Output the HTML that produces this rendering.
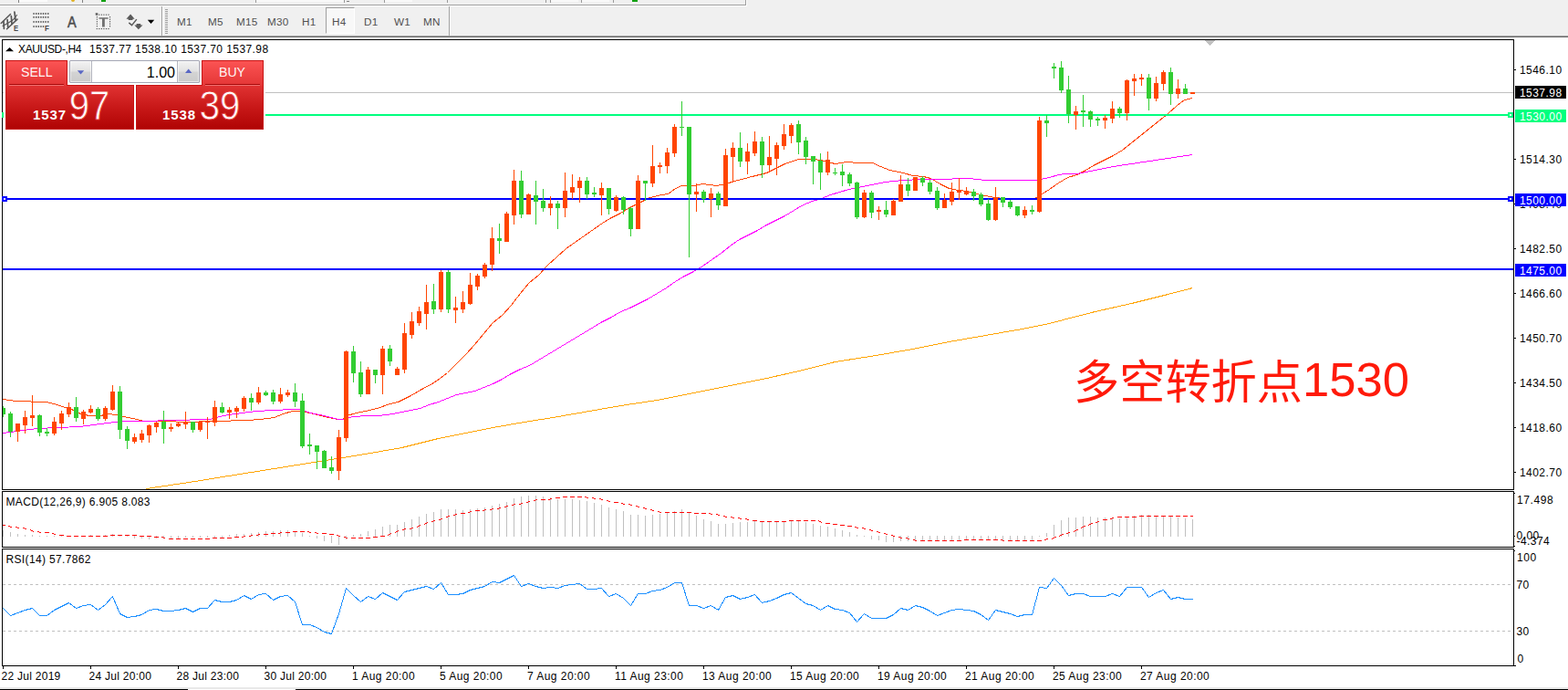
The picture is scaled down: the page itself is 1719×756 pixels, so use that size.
<!DOCTYPE html>
<html><head><meta charset="utf-8"><title>XAUUSD H4</title>
<style>
*{margin:0;padding:0;box-sizing:border-box}
html,body{width:1719px;height:756px;overflow:hidden;background:#fff;font-family:"Liberation Sans",sans-serif;color:#000}
#root{position:relative;width:1719px;height:756px;overflow:hidden;background:#fff}
#chart,#cn{position:absolute;left:0;top:0}
.tb{position:absolute;left:0;top:0;width:1719px;height:41px;background:#f0f0f0}
.tb .l1{position:absolute;left:0;top:5px;width:818px;height:1px;background:#a0a0a0}
.tb .l1b{position:absolute;left:0;top:6px;width:819px;height:1px;background:#fff}
.tb .l2{position:absolute;left:0;top:39px;width:1719px;height:1px;background:#a0a0a0}
.tb .l3{position:absolute;left:0;top:40px;width:1719px;height:1px;background:#696969}
.tf{position:absolute;top:16.8px;font-size:11.7px;line-height:14px;color:#505050;white-space:nowrap;letter-spacing:.3px}
.vsep{position:absolute;top:7px;width:1px;height:32px;background:#a0a0a0}
.pl{position:absolute;left:1666px;font-size:12px;line-height:14px;white-space:nowrap;letter-spacing:0.45px}
.pb{position:absolute;left:1661px;width:56px;height:14px;overflow:hidden;font-size:12px;line-height:16px;color:#fff;padding-left:5px;white-space:nowrap;letter-spacing:0.45px}
.tl{position:absolute;top:734px;font-size:12px;line-height:14px;white-space:nowrap;letter-spacing:.26px}
.ttl{position:absolute;left:20px;top:47px;font-size:12px;line-height:14px;white-space:pre;letter-spacing:0.28px}
.ind{position:absolute;left:6.5px;font-size:12px;line-height:14px;white-space:pre}
#panelbg{position:absolute;left:4px;top:44px;width:287px;height:99px;background:#fff}

#tp{position:absolute;left:0;top:0}
.rp{position:absolute;border:1px solid #c81414}
.hd{background:linear-gradient(#fb5353,#e43636)}
.lo{background:linear-gradient(#e03232,#c81818 50%,#b00404)}
.tpl{position:absolute;color:#fff;font-size:15px;line-height:16px;white-space:nowrap;opacity:.95;transform-origin:0 0;transform:scale(.94,1.02)}
.sm{position:absolute;color:#fff;font-weight:bold;font-size:15px;line-height:15px;white-space:nowrap;letter-spacing:.9px}
.bg{position:absolute;color:#fff;font-size:43px;line-height:43px;white-space:nowrap;transform-origin:0 0;transform:scaleX(.95)}
.ul{position:absolute;height:2px;border-top:1px solid #a80808;border-bottom:1px solid #f07070}
.vb{position:absolute;left:76px;top:66px;width:143px;height:25px;border:1px solid #a4a6b4;background:#fff;border-radius:1px}
.vbtn{position:absolute;top:0;width:24px;height:23px;background:linear-gradient(#f3f3f3,#e2e2e2 48%,#d4d4d4 52%,#cbcbcb);box-shadow:inset 0 0 0 1px rgba(255,255,255,.55)}
</style></head><body><div id="root">
<svg id="chart" width="1719" height="756" viewBox="0 0 1719 756" shape-rendering="crispEdges"><rect x="3" y="101" width="1656" height="1" fill="#c0c0c0"/>
<polyline points="160.5,535.5 180.5,532.5 200.5,529.5 220.5,526.5 250.5,521.5 300.5,513.5 350.5,505.5 400.5,497.5 440.5,490.5 480.5,480.5 500.5,476.5 540.5,468.5 580.5,461.5 600.5,458.5 640.5,451.5 680.5,444.5 720.5,438.5 760.5,430.5 800.5,422.5 840.5,414.5 880.5,405.5 915.5,396.5 960.5,389.5 1000.5,382.5 1040.5,374.5 1080.5,367.5 1120.5,360.5 1150.5,354.5 1165.5,350.5 1200.5,341.5 1240.5,332.5 1280.5,322.5 1307.5,315.5" fill="none" stroke="#ffa500" stroke-width="1"/>
<polyline points="3.5,437.5 17.5,439.5 50.5,440.5 55.5,441.5 62.5,443.5 68.5,445.5 78.5,448.5 90.5,454.5 100.5,455.5 110.5,455.5 118.5,453.5 127.5,454.5 135.5,456.5 150.5,459.5 157.5,461.5 185.5,461.5 200.5,462.5 235.5,461.5 270.5,460.5 285.5,459.5 300.5,457.5 310.5,453.5 320.5,450.5 327.5,450.5 340.5,452.5 355.5,456.5 370.5,459.5 375.5,459.5 380.5,455.5 390.5,452.5 400.5,450.5 413.5,447.5 427.5,442.5 436.5,440.5 450.5,433.5 462.5,426.5 475.5,419.5 482.5,414.5 490.5,408.5 500.5,398.5 510.5,388.5 520.5,377.5 530.5,365.5 540.5,353.5 550.5,345.5 560.5,334.5 570.5,321.5 580.5,309.5 590.5,301.5 600.5,290.5 610.5,281.5 620.5,272.5 630.5,265.5 640.5,258.5 650.5,251.5 660.5,244.5 670.5,238.5 680.5,233.5 690.5,227.5 700.5,222.5 712.5,216.5 725.5,213.5 732.5,212.5 740.5,206.5 747.5,203.5 760.5,203.5 770.5,201.5 785.5,203.5 795.5,201.5 805.5,198.5 820.5,194.5 840.5,189.5 850.5,184.5 860.5,179.5 875.5,174.5 890.5,174.5 900.5,175.5 910.5,178.5 916.5,179.5 928.5,177.5 940.5,178.5 956.5,178.5 965.5,182.5 975.5,186.5 990.5,189.5 1000.5,192.5 1012.5,193.5 1020.5,195.5 1030.5,201.5 1040.5,206.5 1050.5,208.5 1060.5,209.5 1070.5,212.5 1080.5,214.5 1090.5,216.5 1100.5,217.5 1115.5,217.5 1134.5,217.5 1137.5,215.5 1142.5,212.5 1150.5,207.5 1160.5,200.5 1170.5,194.5 1180.5,191.5 1190.5,186.5 1200.5,180.5 1210.5,175.5 1220.5,170.5 1230.5,164.5 1240.5,156.5 1250.5,148.5 1260.5,140.5 1270.5,132.5 1280.5,124.5 1290.5,115.5 1298.5,109.5 1307.5,107.5" fill="none" stroke="#ff4500" stroke-width="1"/>
<polyline points="3.5,474.5 40.5,469.5 87.5,467.5 125.5,462.5 137.5,461.5 160.5,461.5 185.5,460.5 200.5,460.5 215.5,459.5 230.5,459.5 240.5,456.5 250.5,454.5 265.5,452.5 280.5,450.5 300.5,449.5 320.5,448.5 327.5,448.5 340.5,452.5 355.5,455.5 370.5,459.5 375.5,459.5 380.5,457.5 390.5,456.5 400.5,455.5 415.5,455.5 430.5,453.5 445.5,450.5 460.5,447.5 470.5,443.5 480.5,440.5 490.5,436.5 500.5,432.5 510.5,430.5 520.5,428.5 530.5,424.5 540.5,420.5 550.5,415.5 560.5,409.5 570.5,404.5 580.5,400.5 590.5,394.5 600.5,388.5 610.5,382.5 620.5,376.5 630.5,370.5 640.5,364.5 650.5,358.5 660.5,352.5 670.5,347.5 680.5,341.5 690.5,337.5 700.5,332.5 710.5,327.5 720.5,321.5 730.5,315.5 740.5,308.5 750.5,302.5 760.5,297.5 770.5,291.5 780.5,284.5 790.5,277.5 800.5,269.5 810.5,262.5 820.5,257.5 830.5,252.5 840.5,246.5 850.5,241.5 860.5,236.5 870.5,230.5 880.5,224.5 890.5,220.5 900.5,217.5 910.5,213.5 920.5,210.5 930.5,207.5 940.5,205.5 950.5,203.5 960.5,201.5 970.5,199.5 980.5,198.5 990.5,197.5 1010.5,196.5 1040.5,196.5 1047.5,195.5 1063.5,195.5 1070.5,196.5 1080.5,197.5 1134.5,197.5 1140.5,196.5 1150.5,194.5 1160.5,191.5 1167.5,190.5 1180.5,190.5 1190.5,188.5 1200.5,186.5 1220.5,182.5 1240.5,179.5 1260.5,176.5 1280.5,173.5 1300.5,170.5 1307.5,169.5" fill="none" stroke="#ff00ff" stroke-width="1"/>
<rect x="3" y="125" width="1656" height="2" fill="#00ff7f"/>
<rect x="3" y="217" width="1656" height="2" fill="#0000ff"/>
<rect x="3" y="294" width="1656" height="2" fill="#0000ff"/>
<rect x="3" y="445" width="1" height="12" fill="#32cd32"/>
<rect x="3" y="447" width="3" height="7" fill="#32cd32"/>
<rect x="11" y="451" width="1" height="28" fill="#32cd32"/>
<rect x="9" y="453" width="5" height="20" fill="#32cd32"/>
<rect x="19" y="464" width="1" height="20" fill="#ff4500"/>
<rect x="17" y="464" width="5" height="9" fill="#ff4500"/>
<rect x="27" y="450" width="1" height="25" fill="#ff4500"/>
<rect x="25" y="457" width="5" height="9" fill="#ff4500"/>
<rect x="35" y="433" width="1" height="34" fill="#ff4500"/>
<rect x="33" y="455" width="5" height="3" fill="#ff4500"/>
<rect x="43" y="454" width="1" height="24" fill="#32cd32"/>
<rect x="41" y="455" width="5" height="19" fill="#32cd32"/>
<rect x="51" y="469" width="1" height="9" fill="#32cd32"/>
<rect x="49" y="473" width="5" height="2" fill="#32cd32"/>
<rect x="59" y="457" width="1" height="20" fill="#ff4500"/>
<rect x="57" y="462" width="5" height="13" fill="#ff4500"/>
<rect x="67" y="450" width="1" height="21" fill="#ff4500"/>
<rect x="65" y="453" width="5" height="11" fill="#ff4500"/>
<rect x="75" y="441" width="1" height="16" fill="#ff4500"/>
<rect x="73" y="446" width="5" height="8" fill="#ff4500"/>
<rect x="83" y="435" width="1" height="27" fill="#32cd32"/>
<rect x="81" y="446" width="5" height="12" fill="#32cd32"/>
<rect x="91" y="449" width="1" height="16" fill="#ff4500"/>
<rect x="89" y="451" width="5" height="8" fill="#ff4500"/>
<rect x="99" y="444" width="1" height="9" fill="#ff4500"/>
<rect x="97" y="448" width="5" height="4" fill="#ff4500"/>
<rect x="107" y="446" width="1" height="15" fill="#32cd32"/>
<rect x="105" y="448" width="5" height="11" fill="#32cd32"/>
<rect x="115" y="445" width="1" height="16" fill="#ff4500"/>
<rect x="113" y="447" width="5" height="12" fill="#ff4500"/>
<rect x="123" y="422" width="1" height="28" fill="#ff4500"/>
<rect x="121" y="429" width="5" height="20" fill="#ff4500"/>
<rect x="131" y="423" width="1" height="58" fill="#32cd32"/>
<rect x="129" y="429" width="5" height="42" fill="#32cd32"/>
<rect x="139" y="467" width="1" height="25" fill="#32cd32"/>
<rect x="137" y="470" width="5" height="13" fill="#32cd32"/>
<rect x="147" y="475" width="1" height="11" fill="#ff4500"/>
<rect x="145" y="479" width="5" height="5" fill="#ff4500"/>
<rect x="155" y="471" width="1" height="14" fill="#ff4500"/>
<rect x="153" y="475" width="5" height="7" fill="#ff4500"/>
<rect x="163" y="465" width="1" height="20" fill="#ff4500"/>
<rect x="161" y="466" width="5" height="11" fill="#ff4500"/>
<rect x="171" y="462" width="1" height="12" fill="#ff4500"/>
<rect x="169" y="463" width="5" height="5" fill="#ff4500"/>
<rect x="179" y="450" width="1" height="36" fill="#32cd32"/>
<rect x="177" y="462" width="5" height="8" fill="#32cd32"/>
<rect x="187" y="464" width="1" height="9" fill="#ff4500"/>
<rect x="185" y="468" width="5" height="2" fill="#ff4500"/>
<rect x="195" y="462" width="1" height="6" fill="#ff4500"/>
<rect x="193" y="464" width="5" height="3" fill="#ff4500"/>
<rect x="203" y="451" width="1" height="19" fill="#ff4500"/>
<rect x="201" y="462" width="5" height="3" fill="#ff4500"/>
<rect x="211" y="462" width="1" height="12" fill="#32cd32"/>
<rect x="209" y="462" width="5" height="9" fill="#32cd32"/>
<rect x="219" y="462" width="1" height="11" fill="#ff4500"/>
<rect x="217" y="462" width="5" height="9" fill="#ff4500"/>
<rect x="227" y="457" width="1" height="24" fill="#ff4500"/>
<rect x="225" y="461" width="5" height="2" fill="#ff4500"/>
<rect x="235" y="439" width="1" height="28" fill="#ff4500"/>
<rect x="233" y="446" width="5" height="17" fill="#ff4500"/>
<rect x="243" y="441" width="1" height="12" fill="#32cd32"/>
<rect x="241" y="446" width="5" height="6" fill="#32cd32"/>
<rect x="251" y="446" width="1" height="13" fill="#ff4500"/>
<rect x="249" y="449" width="5" height="3" fill="#ff4500"/>
<rect x="259" y="445" width="1" height="13" fill="#ff4500"/>
<rect x="257" y="447" width="5" height="4" fill="#ff4500"/>
<rect x="267" y="434" width="1" height="17" fill="#ff4500"/>
<rect x="265" y="436" width="5" height="12" fill="#ff4500"/>
<rect x="275" y="431" width="1" height="19" fill="#32cd32"/>
<rect x="273" y="436" width="5" height="5" fill="#32cd32"/>
<rect x="283" y="424" width="1" height="19" fill="#ff4500"/>
<rect x="281" y="430" width="5" height="11" fill="#ff4500"/>
<rect x="291" y="428" width="1" height="6" fill="#32cd32"/>
<rect x="289" y="430" width="5" height="3" fill="#32cd32"/>
<rect x="299" y="427" width="1" height="16" fill="#32cd32"/>
<rect x="297" y="430" width="5" height="10" fill="#32cd32"/>
<rect x="307" y="425" width="1" height="17" fill="#ff4500"/>
<rect x="305" y="432" width="5" height="8" fill="#ff4500"/>
<rect x="315" y="427" width="1" height="8" fill="#ff4500"/>
<rect x="313" y="430" width="5" height="3" fill="#ff4500"/>
<rect x="323" y="420" width="1" height="26" fill="#32cd32"/>
<rect x="321" y="430" width="5" height="10" fill="#32cd32"/>
<rect x="331" y="431" width="1" height="60" fill="#32cd32"/>
<rect x="329" y="439" width="5" height="50" fill="#32cd32"/>
<rect x="339" y="475" width="1" height="23" fill="#32cd32"/>
<rect x="337" y="487" width="5" height="2" fill="#32cd32"/>
<rect x="347" y="488" width="1" height="26" fill="#32cd32"/>
<rect x="345" y="488" width="5" height="7" fill="#32cd32"/>
<rect x="355" y="493" width="1" height="20" fill="#32cd32"/>
<rect x="353" y="494" width="5" height="19" fill="#32cd32"/>
<rect x="363" y="500" width="1" height="19" fill="#32cd32"/>
<rect x="361" y="512" width="5" height="4" fill="#32cd32"/>
<rect x="371" y="471" width="1" height="55" fill="#ff4500"/>
<rect x="369" y="479" width="5" height="37" fill="#ff4500"/>
<rect x="379" y="384" width="1" height="100" fill="#ff4500"/>
<rect x="377" y="385" width="5" height="95" fill="#ff4500"/>
<rect x="387" y="379" width="1" height="40" fill="#32cd32"/>
<rect x="385" y="385" width="5" height="24" fill="#32cd32"/>
<rect x="395" y="396" width="1" height="39" fill="#32cd32"/>
<rect x="393" y="408" width="5" height="24" fill="#32cd32"/>
<rect x="403" y="402" width="1" height="30" fill="#ff4500"/>
<rect x="401" y="405" width="5" height="27" fill="#ff4500"/>
<rect x="411" y="405" width="1" height="15" fill="#32cd32"/>
<rect x="409" y="405" width="5" height="6" fill="#32cd32"/>
<rect x="419" y="379" width="1" height="53" fill="#ff4500"/>
<rect x="417" y="382" width="5" height="29" fill="#ff4500"/>
<rect x="427" y="378" width="1" height="23" fill="#32cd32"/>
<rect x="425" y="382" width="5" height="14" fill="#32cd32"/>
<rect x="435" y="402" width="1" height="9" fill="#ff4500"/>
<rect x="433" y="404" width="5" height="7" fill="#ff4500"/>
<rect x="443" y="354" width="1" height="55" fill="#ff4500"/>
<rect x="441" y="365" width="5" height="40" fill="#ff4500"/>
<rect x="451" y="342" width="1" height="29" fill="#ff4500"/>
<rect x="449" y="352" width="5" height="15" fill="#ff4500"/>
<rect x="459" y="336" width="1" height="21" fill="#ff4500"/>
<rect x="457" y="341" width="5" height="13" fill="#ff4500"/>
<rect x="467" y="312" width="1" height="49" fill="#ff4500"/>
<rect x="465" y="331" width="5" height="13" fill="#ff4500"/>
<rect x="475" y="311" width="1" height="33" fill="#32cd32"/>
<rect x="473" y="330" width="5" height="9" fill="#32cd32"/>
<rect x="483" y="296" width="1" height="46" fill="#ff4500"/>
<rect x="481" y="298" width="5" height="41" fill="#ff4500"/>
<rect x="491" y="296" width="1" height="47" fill="#32cd32"/>
<rect x="489" y="298" width="5" height="41" fill="#32cd32"/>
<rect x="499" y="325" width="1" height="29" fill="#ff4500"/>
<rect x="497" y="337" width="5" height="3" fill="#ff4500"/>
<rect x="507" y="319" width="1" height="24" fill="#ff4500"/>
<rect x="505" y="331" width="5" height="8" fill="#ff4500"/>
<rect x="515" y="299" width="1" height="35" fill="#ff4500"/>
<rect x="513" y="312" width="5" height="21" fill="#ff4500"/>
<rect x="523" y="300" width="1" height="18" fill="#ff4500"/>
<rect x="521" y="302" width="5" height="12" fill="#ff4500"/>
<rect x="531" y="288" width="1" height="17" fill="#ff4500"/>
<rect x="529" y="290" width="5" height="13" fill="#ff4500"/>
<rect x="539" y="249" width="1" height="48" fill="#ff4500"/>
<rect x="537" y="261" width="5" height="29" fill="#ff4500"/>
<rect x="547" y="245" width="1" height="33" fill="#32cd32"/>
<rect x="545" y="261" width="5" height="3" fill="#32cd32"/>
<rect x="555" y="232" width="1" height="33" fill="#ff4500"/>
<rect x="553" y="234" width="5" height="31" fill="#ff4500"/>
<rect x="563" y="186" width="1" height="60" fill="#ff4500"/>
<rect x="561" y="198" width="5" height="38" fill="#ff4500"/>
<rect x="571" y="187" width="1" height="52" fill="#32cd32"/>
<rect x="569" y="198" width="5" height="37" fill="#32cd32"/>
<rect x="579" y="212" width="1" height="23" fill="#ff4500"/>
<rect x="577" y="213" width="5" height="22" fill="#ff4500"/>
<rect x="587" y="198" width="1" height="48" fill="#32cd32"/>
<rect x="585" y="214" width="5" height="7" fill="#32cd32"/>
<rect x="595" y="207" width="1" height="25" fill="#32cd32"/>
<rect x="593" y="220" width="5" height="8" fill="#32cd32"/>
<rect x="603" y="215" width="1" height="21" fill="#ff4500"/>
<rect x="601" y="223" width="5" height="5" fill="#ff4500"/>
<rect x="611" y="220" width="1" height="31" fill="#32cd32"/>
<rect x="609" y="223" width="5" height="5" fill="#32cd32"/>
<rect x="619" y="189" width="1" height="49" fill="#ff4500"/>
<rect x="617" y="209" width="5" height="19" fill="#ff4500"/>
<rect x="627" y="191" width="1" height="27" fill="#ff4500"/>
<rect x="625" y="205" width="5" height="6" fill="#ff4500"/>
<rect x="635" y="194" width="1" height="28" fill="#ff4500"/>
<rect x="633" y="198" width="5" height="8" fill="#ff4500"/>
<rect x="643" y="194" width="1" height="24" fill="#32cd32"/>
<rect x="641" y="198" width="5" height="15" fill="#32cd32"/>
<rect x="651" y="205" width="1" height="11" fill="#32cd32"/>
<rect x="649" y="211" width="5" height="2" fill="#32cd32"/>
<rect x="659" y="200" width="1" height="36" fill="#ff4500"/>
<rect x="657" y="206" width="5" height="8" fill="#ff4500"/>
<rect x="667" y="206" width="1" height="29" fill="#32cd32"/>
<rect x="665" y="206" width="5" height="23" fill="#32cd32"/>
<rect x="675" y="214" width="1" height="18" fill="#ff4500"/>
<rect x="673" y="216" width="5" height="15" fill="#ff4500"/>
<rect x="683" y="215" width="1" height="20" fill="#32cd32"/>
<rect x="681" y="216" width="5" height="14" fill="#32cd32"/>
<rect x="691" y="227" width="1" height="32" fill="#32cd32"/>
<rect x="689" y="228" width="5" height="23" fill="#32cd32"/>
<rect x="699" y="192" width="1" height="59" fill="#ff4500"/>
<rect x="697" y="198" width="5" height="53" fill="#ff4500"/>
<rect x="707" y="198" width="1" height="22" fill="#32cd32"/>
<rect x="705" y="198" width="5" height="3" fill="#32cd32"/>
<rect x="715" y="159" width="1" height="46" fill="#ff4500"/>
<rect x="713" y="182" width="5" height="19" fill="#ff4500"/>
<rect x="723" y="178" width="1" height="12" fill="#ff4500"/>
<rect x="721" y="181" width="5" height="2" fill="#ff4500"/>
<rect x="731" y="162" width="1" height="28" fill="#ff4500"/>
<rect x="729" y="167" width="5" height="15" fill="#ff4500"/>
<rect x="739" y="136" width="1" height="36" fill="#ff4500"/>
<rect x="737" y="139" width="5" height="29" fill="#ff4500"/>
<rect x="747" y="111" width="1" height="38" fill="#32cd32"/>
<rect x="745" y="139" width="5" height="1" fill="#32cd32"/>
<rect x="755" y="139" width="1" height="143" fill="#32cd32"/>
<rect x="753" y="139" width="5" height="74" fill="#32cd32"/>
<rect x="763" y="201" width="1" height="31" fill="#ff4500"/>
<rect x="761" y="210" width="5" height="3" fill="#ff4500"/>
<rect x="771" y="208" width="1" height="14" fill="#32cd32"/>
<rect x="769" y="210" width="5" height="8" fill="#32cd32"/>
<rect x="779" y="206" width="1" height="32" fill="#ff4500"/>
<rect x="777" y="212" width="5" height="6" fill="#ff4500"/>
<rect x="787" y="210" width="1" height="20" fill="#32cd32"/>
<rect x="785" y="212" width="5" height="13" fill="#32cd32"/>
<rect x="795" y="163" width="1" height="63" fill="#ff4500"/>
<rect x="793" y="170" width="5" height="56" fill="#ff4500"/>
<rect x="803" y="156" width="1" height="44" fill="#ff4500"/>
<rect x="801" y="162" width="5" height="10" fill="#ff4500"/>
<rect x="811" y="145" width="1" height="38" fill="#32cd32"/>
<rect x="809" y="162" width="5" height="15" fill="#32cd32"/>
<rect x="819" y="157" width="1" height="34" fill="#ff4500"/>
<rect x="817" y="166" width="5" height="11" fill="#ff4500"/>
<rect x="827" y="144" width="1" height="27" fill="#ff4500"/>
<rect x="825" y="155" width="5" height="13" fill="#ff4500"/>
<rect x="835" y="150" width="1" height="45" fill="#32cd32"/>
<rect x="833" y="155" width="5" height="26" fill="#32cd32"/>
<rect x="843" y="149" width="1" height="38" fill="#ff4500"/>
<rect x="841" y="172" width="5" height="9" fill="#ff4500"/>
<rect x="851" y="156" width="1" height="36" fill="#ff4500"/>
<rect x="849" y="159" width="5" height="15" fill="#ff4500"/>
<rect x="859" y="136" width="1" height="28" fill="#ff4500"/>
<rect x="857" y="147" width="5" height="13" fill="#ff4500"/>
<rect x="867" y="135" width="1" height="22" fill="#ff4500"/>
<rect x="865" y="137" width="5" height="12" fill="#ff4500"/>
<rect x="875" y="132" width="1" height="37" fill="#32cd32"/>
<rect x="873" y="136" width="5" height="20" fill="#32cd32"/>
<rect x="883" y="150" width="1" height="30" fill="#32cd32"/>
<rect x="881" y="154" width="5" height="18" fill="#32cd32"/>
<rect x="891" y="171" width="1" height="31" fill="#32cd32"/>
<rect x="889" y="171" width="5" height="6" fill="#32cd32"/>
<rect x="899" y="168" width="1" height="40" fill="#32cd32"/>
<rect x="897" y="176" width="5" height="13" fill="#32cd32"/>
<rect x="907" y="166" width="1" height="26" fill="#ff4500"/>
<rect x="905" y="175" width="5" height="14" fill="#ff4500"/>
<rect x="915" y="184" width="1" height="8" fill="#32cd32"/>
<rect x="913" y="189" width="5" height="1" fill="#32cd32"/>
<rect x="923" y="180" width="1" height="24" fill="#32cd32"/>
<rect x="921" y="188" width="5" height="4" fill="#32cd32"/>
<rect x="931" y="189" width="1" height="15" fill="#32cd32"/>
<rect x="929" y="191" width="5" height="10" fill="#32cd32"/>
<rect x="939" y="199" width="1" height="41" fill="#32cd32"/>
<rect x="937" y="200" width="5" height="38" fill="#32cd32"/>
<rect x="947" y="208" width="1" height="31" fill="#ff4500"/>
<rect x="945" y="211" width="5" height="27" fill="#ff4500"/>
<rect x="955" y="209" width="1" height="30" fill="#32cd32"/>
<rect x="953" y="211" width="5" height="22" fill="#32cd32"/>
<rect x="963" y="226" width="1" height="15" fill="#ff4500"/>
<rect x="961" y="230" width="5" height="2" fill="#ff4500"/>
<rect x="971" y="220" width="1" height="18" fill="#32cd32"/>
<rect x="969" y="230" width="5" height="5" fill="#32cd32"/>
<rect x="979" y="218" width="1" height="18" fill="#ff4500"/>
<rect x="977" y="220" width="5" height="16" fill="#ff4500"/>
<rect x="987" y="192" width="1" height="29" fill="#ff4500"/>
<rect x="985" y="202" width="5" height="19" fill="#ff4500"/>
<rect x="995" y="195" width="1" height="20" fill="#32cd32"/>
<rect x="993" y="202" width="5" height="7" fill="#32cd32"/>
<rect x="1003" y="194" width="1" height="15" fill="#ff4500"/>
<rect x="1001" y="194" width="5" height="15" fill="#ff4500"/>
<rect x="1011" y="193" width="1" height="11" fill="#32cd32"/>
<rect x="1009" y="195" width="5" height="5" fill="#32cd32"/>
<rect x="1019" y="197" width="1" height="16" fill="#32cd32"/>
<rect x="1017" y="200" width="5" height="10" fill="#32cd32"/>
<rect x="1027" y="205" width="1" height="25" fill="#32cd32"/>
<rect x="1025" y="209" width="5" height="19" fill="#32cd32"/>
<rect x="1035" y="212" width="1" height="16" fill="#ff4500"/>
<rect x="1033" y="219" width="5" height="9" fill="#ff4500"/>
<rect x="1043" y="200" width="1" height="25" fill="#ff4500"/>
<rect x="1041" y="210" width="5" height="11" fill="#ff4500"/>
<rect x="1051" y="195" width="1" height="24" fill="#ff4500"/>
<rect x="1049" y="208" width="5" height="3" fill="#ff4500"/>
<rect x="1059" y="205" width="1" height="9" fill="#ff4500"/>
<rect x="1057" y="209" width="5" height="4" fill="#ff4500"/>
<rect x="1067" y="207" width="1" height="13" fill="#32cd32"/>
<rect x="1065" y="210" width="5" height="5" fill="#32cd32"/>
<rect x="1075" y="211" width="1" height="15" fill="#32cd32"/>
<rect x="1073" y="213" width="5" height="11" fill="#32cd32"/>
<rect x="1083" y="218" width="1" height="24" fill="#32cd32"/>
<rect x="1081" y="223" width="5" height="18" fill="#32cd32"/>
<rect x="1091" y="205" width="1" height="37" fill="#ff4500"/>
<rect x="1089" y="216" width="5" height="25" fill="#ff4500"/>
<rect x="1099" y="216" width="1" height="11" fill="#32cd32"/>
<rect x="1097" y="216" width="5" height="6" fill="#32cd32"/>
<rect x="1107" y="219" width="1" height="10" fill="#32cd32"/>
<rect x="1105" y="221" width="5" height="6" fill="#32cd32"/>
<rect x="1115" y="226" width="1" height="11" fill="#32cd32"/>
<rect x="1113" y="226" width="5" height="10" fill="#32cd32"/>
<rect x="1123" y="226" width="1" height="13" fill="#ff4500"/>
<rect x="1121" y="230" width="5" height="6" fill="#ff4500"/>
<rect x="1131" y="225" width="1" height="10" fill="#32cd32"/>
<rect x="1129" y="230" width="5" height="2" fill="#32cd32"/>
<rect x="1139" y="128" width="1" height="105" fill="#ff4500"/>
<rect x="1137" y="132" width="5" height="100" fill="#ff4500"/>
<rect x="1147" y="126" width="1" height="24" fill="#32cd32"/>
<rect x="1145" y="132" width="5" height="3" fill="#32cd32"/>
<rect x="1155" y="69" width="1" height="17" fill="#32cd32"/>
<rect x="1153" y="73" width="5" height="2" fill="#32cd32"/>
<rect x="1163" y="67" width="1" height="35" fill="#32cd32"/>
<rect x="1161" y="74" width="5" height="25" fill="#32cd32"/>
<rect x="1171" y="83" width="1" height="52" fill="#32cd32"/>
<rect x="1169" y="98" width="5" height="27" fill="#32cd32"/>
<rect x="1179" y="116" width="1" height="26" fill="#ff4500"/>
<rect x="1177" y="122" width="5" height="4" fill="#ff4500"/>
<rect x="1187" y="104" width="1" height="35" fill="#32cd32"/>
<rect x="1185" y="121" width="5" height="2" fill="#32cd32"/>
<rect x="1195" y="121" width="1" height="18" fill="#32cd32"/>
<rect x="1193" y="122" width="5" height="9" fill="#32cd32"/>
<rect x="1203" y="128" width="1" height="10" fill="#32cd32"/>
<rect x="1201" y="130" width="5" height="2" fill="#32cd32"/>
<rect x="1211" y="126" width="1" height="15" fill="#ff4500"/>
<rect x="1209" y="129" width="5" height="3" fill="#ff4500"/>
<rect x="1219" y="111" width="1" height="24" fill="#ff4500"/>
<rect x="1217" y="119" width="5" height="11" fill="#ff4500"/>
<rect x="1227" y="117" width="1" height="12" fill="#32cd32"/>
<rect x="1225" y="119" width="5" height="5" fill="#32cd32"/>
<rect x="1235" y="87" width="1" height="45" fill="#ff4500"/>
<rect x="1233" y="88" width="5" height="36" fill="#ff4500"/>
<rect x="1243" y="81" width="1" height="24" fill="#ff4500"/>
<rect x="1241" y="86" width="5" height="3" fill="#ff4500"/>
<rect x="1251" y="81" width="1" height="13" fill="#ff4500"/>
<rect x="1249" y="85" width="5" height="2" fill="#ff4500"/>
<rect x="1259" y="81" width="1" height="40" fill="#32cd32"/>
<rect x="1257" y="85" width="5" height="23" fill="#32cd32"/>
<rect x="1267" y="84" width="1" height="27" fill="#ff4500"/>
<rect x="1265" y="91" width="5" height="17" fill="#ff4500"/>
<rect x="1275" y="77" width="1" height="22" fill="#ff4500"/>
<rect x="1273" y="79" width="5" height="13" fill="#ff4500"/>
<rect x="1283" y="74" width="1" height="41" fill="#32cd32"/>
<rect x="1281" y="79" width="5" height="24" fill="#32cd32"/>
<rect x="1291" y="87" width="1" height="21" fill="#ff4500"/>
<rect x="1289" y="97" width="5" height="6" fill="#ff4500"/>
<rect x="1299" y="92" width="1" height="11" fill="#32cd32"/>
<rect x="1297" y="97" width="5" height="6" fill="#32cd32"/>
<rect x="1307" y="101" width="1" height="2" fill="#ff4500"/>
<rect x="1305" y="101" width="5" height="2" fill="#ff4500"/>
<rect x="3" y="581" width="1" height="7" fill="#c0c0c0"/>
<rect x="11" y="583" width="1" height="5" fill="#c0c0c0"/>
<rect x="19" y="585" width="1" height="3" fill="#c0c0c0"/>
<rect x="27" y="586" width="1" height="2" fill="#c0c0c0"/>
<rect x="35" y="586" width="1" height="2" fill="#c0c0c0"/>
<rect x="43" y="587" width="1" height="1" fill="#c0c0c0"/>
<rect x="51" y="587" width="1" height="1" fill="#c0c0c0"/>
<rect x="59" y="587" width="1" height="1" fill="#c0c0c0"/>
<rect x="67" y="587" width="1" height="1" fill="#c0c0c0"/>
<rect x="75" y="587" width="1" height="1" fill="#c0c0c0"/>
<rect x="83" y="587" width="1" height="1" fill="#c0c0c0"/>
<rect x="91" y="587" width="1" height="1" fill="#c0c0c0"/>
<rect x="99" y="586" width="1" height="2" fill="#c0c0c0"/>
<rect x="107" y="587" width="1" height="1" fill="#c0c0c0"/>
<rect x="115" y="586" width="1" height="2" fill="#c0c0c0"/>
<rect x="123" y="585" width="1" height="3" fill="#c0c0c0"/>
<rect x="131" y="586" width="1" height="2" fill="#c0c0c0"/>
<rect x="139" y="587" width="1" height="1" fill="#c0c0c0"/>
<rect x="147" y="587" width="1" height="3" fill="#c0c0c0"/>
<rect x="155" y="587" width="1" height="3" fill="#c0c0c0"/>
<rect x="163" y="587" width="1" height="4" fill="#c0c0c0"/>
<rect x="171" y="587" width="1" height="3" fill="#c0c0c0"/>
<rect x="179" y="587" width="1" height="3" fill="#c0c0c0"/>
<rect x="187" y="587" width="1" height="4" fill="#c0c0c0"/>
<rect x="195" y="587" width="1" height="3" fill="#c0c0c0"/>
<rect x="203" y="587" width="1" height="2" fill="#c0c0c0"/>
<rect x="211" y="587" width="1" height="2" fill="#c0c0c0"/>
<rect x="219" y="587" width="1" height="2" fill="#c0c0c0"/>
<rect x="227" y="587" width="1" height="2" fill="#c0c0c0"/>
<rect x="235" y="587" width="1" height="2" fill="#c0c0c0"/>
<rect x="243" y="587" width="1" height="2" fill="#c0c0c0"/>
<rect x="251" y="586" width="1" height="2" fill="#c0c0c0"/>
<rect x="259" y="585" width="1" height="3" fill="#c0c0c0"/>
<rect x="267" y="585" width="1" height="3" fill="#c0c0c0"/>
<rect x="275" y="584" width="1" height="4" fill="#c0c0c0"/>
<rect x="283" y="583" width="1" height="5" fill="#c0c0c0"/>
<rect x="291" y="582" width="1" height="6" fill="#c0c0c0"/>
<rect x="299" y="582" width="1" height="6" fill="#c0c0c0"/>
<rect x="307" y="581" width="1" height="7" fill="#c0c0c0"/>
<rect x="315" y="581" width="1" height="7" fill="#c0c0c0"/>
<rect x="323" y="582" width="1" height="6" fill="#c0c0c0"/>
<rect x="331" y="584" width="1" height="4" fill="#c0c0c0"/>
<rect x="339" y="587" width="1" height="1" fill="#c0c0c0"/>
<rect x="347" y="587" width="1" height="3" fill="#c0c0c0"/>
<rect x="355" y="587" width="1" height="6" fill="#c0c0c0"/>
<rect x="363" y="587" width="1" height="8" fill="#c0c0c0"/>
<rect x="371" y="587" width="1" height="10" fill="#c0c0c0"/>
<rect x="379" y="587" width="1" height="4" fill="#c0c0c0"/>
<rect x="387" y="586" width="1" height="2" fill="#c0c0c0"/>
<rect x="395" y="585" width="1" height="3" fill="#c0c0c0"/>
<rect x="403" y="582" width="1" height="6" fill="#c0c0c0"/>
<rect x="411" y="580" width="1" height="8" fill="#c0c0c0"/>
<rect x="419" y="577" width="1" height="11" fill="#c0c0c0"/>
<rect x="427" y="575" width="1" height="13" fill="#c0c0c0"/>
<rect x="435" y="575" width="1" height="13" fill="#c0c0c0"/>
<rect x="443" y="572" width="1" height="16" fill="#c0c0c0"/>
<rect x="451" y="569" width="1" height="19" fill="#c0c0c0"/>
<rect x="459" y="566" width="1" height="22" fill="#c0c0c0"/>
<rect x="467" y="563" width="1" height="25" fill="#c0c0c0"/>
<rect x="475" y="561" width="1" height="27" fill="#c0c0c0"/>
<rect x="483" y="558" width="1" height="30" fill="#c0c0c0"/>
<rect x="491" y="558" width="1" height="30" fill="#c0c0c0"/>
<rect x="499" y="558" width="1" height="30" fill="#c0c0c0"/>
<rect x="507" y="559" width="1" height="29" fill="#c0c0c0"/>
<rect x="515" y="558" width="1" height="30" fill="#c0c0c0"/>
<rect x="523" y="557" width="1" height="31" fill="#c0c0c0"/>
<rect x="531" y="556" width="1" height="32" fill="#c0c0c0"/>
<rect x="539" y="554" width="1" height="34" fill="#c0c0c0"/>
<rect x="547" y="552" width="1" height="36" fill="#c0c0c0"/>
<rect x="555" y="550" width="1" height="38" fill="#c0c0c0"/>
<rect x="563" y="546" width="1" height="42" fill="#c0c0c0"/>
<rect x="571" y="544" width="1" height="44" fill="#c0c0c0"/>
<rect x="579" y="543" width="1" height="45" fill="#c0c0c0"/>
<rect x="587" y="543" width="1" height="45" fill="#c0c0c0"/>
<rect x="595" y="544" width="1" height="44" fill="#c0c0c0"/>
<rect x="603" y="545" width="1" height="43" fill="#c0c0c0"/>
<rect x="611" y="547" width="1" height="41" fill="#c0c0c0"/>
<rect x="619" y="547" width="1" height="41" fill="#c0c0c0"/>
<rect x="627" y="547" width="1" height="41" fill="#c0c0c0"/>
<rect x="635" y="548" width="1" height="40" fill="#c0c0c0"/>
<rect x="643" y="549" width="1" height="39" fill="#c0c0c0"/>
<rect x="651" y="551" width="1" height="37" fill="#c0c0c0"/>
<rect x="659" y="553" width="1" height="35" fill="#c0c0c0"/>
<rect x="667" y="556" width="1" height="32" fill="#c0c0c0"/>
<rect x="675" y="558" width="1" height="30" fill="#c0c0c0"/>
<rect x="683" y="560" width="1" height="28" fill="#c0c0c0"/>
<rect x="691" y="564" width="1" height="24" fill="#c0c0c0"/>
<rect x="699" y="564" width="1" height="24" fill="#c0c0c0"/>
<rect x="707" y="565" width="1" height="23" fill="#c0c0c0"/>
<rect x="715" y="564" width="1" height="24" fill="#c0c0c0"/>
<rect x="723" y="563" width="1" height="25" fill="#c0c0c0"/>
<rect x="731" y="562" width="1" height="26" fill="#c0c0c0"/>
<rect x="739" y="560" width="1" height="28" fill="#c0c0c0"/>
<rect x="747" y="558" width="1" height="30" fill="#c0c0c0"/>
<rect x="755" y="562" width="1" height="26" fill="#c0c0c0"/>
<rect x="763" y="565" width="1" height="23" fill="#c0c0c0"/>
<rect x="771" y="569" width="1" height="19" fill="#c0c0c0"/>
<rect x="779" y="571" width="1" height="17" fill="#c0c0c0"/>
<rect x="787" y="574" width="1" height="14" fill="#c0c0c0"/>
<rect x="795" y="574" width="1" height="14" fill="#c0c0c0"/>
<rect x="803" y="573" width="1" height="15" fill="#c0c0c0"/>
<rect x="811" y="572" width="1" height="16" fill="#c0c0c0"/>
<rect x="819" y="572" width="1" height="16" fill="#c0c0c0"/>
<rect x="827" y="571" width="1" height="17" fill="#c0c0c0"/>
<rect x="835" y="571" width="1" height="17" fill="#c0c0c0"/>
<rect x="843" y="572" width="1" height="16" fill="#c0c0c0"/>
<rect x="851" y="572" width="1" height="16" fill="#c0c0c0"/>
<rect x="859" y="571" width="1" height="17" fill="#c0c0c0"/>
<rect x="867" y="570" width="1" height="18" fill="#c0c0c0"/>
<rect x="875" y="570" width="1" height="18" fill="#c0c0c0"/>
<rect x="883" y="572" width="1" height="16" fill="#c0c0c0"/>
<rect x="891" y="574" width="1" height="14" fill="#c0c0c0"/>
<rect x="899" y="576" width="1" height="12" fill="#c0c0c0"/>
<rect x="907" y="577" width="1" height="11" fill="#c0c0c0"/>
<rect x="915" y="579" width="1" height="9" fill="#c0c0c0"/>
<rect x="923" y="581" width="1" height="7" fill="#c0c0c0"/>
<rect x="931" y="583" width="1" height="5" fill="#c0c0c0"/>
<rect x="939" y="586" width="1" height="2" fill="#c0c0c0"/>
<rect x="947" y="587" width="1" height="1" fill="#c0c0c0"/>
<rect x="955" y="587" width="1" height="4" fill="#c0c0c0"/>
<rect x="963" y="587" width="1" height="5" fill="#c0c0c0"/>
<rect x="971" y="587" width="1" height="7" fill="#c0c0c0"/>
<rect x="979" y="587" width="1" height="7" fill="#c0c0c0"/>
<rect x="987" y="587" width="1" height="6" fill="#c0c0c0"/>
<rect x="995" y="587" width="1" height="6" fill="#c0c0c0"/>
<rect x="1003" y="587" width="1" height="5" fill="#c0c0c0"/>
<rect x="1011" y="587" width="1" height="5" fill="#c0c0c0"/>
<rect x="1019" y="587" width="1" height="5" fill="#c0c0c0"/>
<rect x="1027" y="587" width="1" height="5" fill="#c0c0c0"/>
<rect x="1035" y="587" width="1" height="5" fill="#c0c0c0"/>
<rect x="1043" y="587" width="1" height="5" fill="#c0c0c0"/>
<rect x="1051" y="587" width="1" height="5" fill="#c0c0c0"/>
<rect x="1059" y="587" width="1" height="5" fill="#c0c0c0"/>
<rect x="1067" y="587" width="1" height="5" fill="#c0c0c0"/>
<rect x="1075" y="587" width="1" height="5" fill="#c0c0c0"/>
<rect x="1083" y="587" width="1" height="5" fill="#c0c0c0"/>
<rect x="1091" y="587" width="1" height="5" fill="#c0c0c0"/>
<rect x="1099" y="587" width="1" height="5" fill="#c0c0c0"/>
<rect x="1107" y="587" width="1" height="5" fill="#c0c0c0"/>
<rect x="1115" y="587" width="1" height="5" fill="#c0c0c0"/>
<rect x="1123" y="587" width="1" height="5" fill="#c0c0c0"/>
<rect x="1131" y="587" width="1" height="5" fill="#c0c0c0"/>
<rect x="1139" y="587" width="1" height="1" fill="#c0c0c0"/>
<rect x="1147" y="584" width="1" height="4" fill="#c0c0c0"/>
<rect x="1155" y="575" width="1" height="13" fill="#c0c0c0"/>
<rect x="1163" y="570" width="1" height="18" fill="#c0c0c0"/>
<rect x="1171" y="567" width="1" height="21" fill="#c0c0c0"/>
<rect x="1179" y="567" width="1" height="21" fill="#c0c0c0"/>
<rect x="1187" y="566" width="1" height="22" fill="#c0c0c0"/>
<rect x="1195" y="566" width="1" height="22" fill="#c0c0c0"/>
<rect x="1203" y="567" width="1" height="21" fill="#c0c0c0"/>
<rect x="1211" y="567" width="1" height="21" fill="#c0c0c0"/>
<rect x="1219" y="567" width="1" height="21" fill="#c0c0c0"/>
<rect x="1227" y="568" width="1" height="20" fill="#c0c0c0"/>
<rect x="1235" y="566" width="1" height="22" fill="#c0c0c0"/>
<rect x="1243" y="565" width="1" height="23" fill="#c0c0c0"/>
<rect x="1251" y="564" width="1" height="24" fill="#c0c0c0"/>
<rect x="1259" y="564" width="1" height="24" fill="#c0c0c0"/>
<rect x="1267" y="565" width="1" height="23" fill="#c0c0c0"/>
<rect x="1275" y="565" width="1" height="23" fill="#c0c0c0"/>
<rect x="1283" y="566" width="1" height="22" fill="#c0c0c0"/>
<rect x="1291" y="567" width="1" height="21" fill="#c0c0c0"/>
<rect x="1299" y="568" width="1" height="20" fill="#c0c0c0"/>
<rect x="1307" y="569" width="1" height="19" fill="#c0c0c0"/>
<path d="M3.0 575.5L5.5 575.5M9.0 576.5L13.5 577.5M17.0 577.5L21.5 578.5M25.0 578.5L29.5 579.5M33.0 580.5L37.5 582.5M41.0 582.5L45.5 583.5M49.0 583.5L53.5 583.5M57.0 584.5L61.5 585.5M65.0 586.5L69.5 586.5M73.0 587.5L77.5 587.5M81.0 587.5L85.5 587.5M89.0 587.5L93.5 587.5M97.0 587.5L101.5 587.5M105.0 587.5L109.5 587.5M113.0 587.5L117.5 587.5M121.0 586.5L125.5 586.5M129.0 586.5L133.5 586.5M137.0 586.5L141.5 586.5M145.0 586.5L149.5 586.5M153.0 587.5L157.5 587.5M161.0 587.5L165.5 587.5M169.0 588.5L173.5 588.5M177.0 588.5L181.5 589.5M185.0 590.5L189.5 590.5M193.0 590.5L197.5 590.5M201.0 590.5L205.5 590.5M209.0 590.5L213.5 590.5M217.0 590.5L221.5 590.5M225.0 590.5L229.5 590.5M233.0 589.5L237.5 589.5M241.0 589.5L245.5 589.5M249.0 589.5L253.5 589.5M257.0 588.5L261.5 588.5M265.0 588.5L269.5 587.5M273.0 587.5L277.5 586.5M281.0 586.5L285.5 585.5M289.0 585.5L293.5 585.5M297.0 584.5L301.5 584.5M305.0 584.5L309.5 583.5M313.0 583.5L317.5 583.5M321.0 582.5L325.5 582.5M329.0 582.5L333.5 582.5M337.0 582.5L341.5 583.5M345.0 583.5L349.5 584.5M353.0 584.5L357.5 584.5M361.0 585.5L365.5 585.5M369.0 586.5L373.5 587.5M377.0 588.5L381.5 589.5M385.0 589.5L389.5 589.5M393.0 589.5L397.5 589.5M401.0 589.5L405.5 589.5M409.0 588.5L413.5 588.5M417.0 587.5L421.5 587.5M425.0 586.5L429.5 584.5M433.0 583.5L437.5 581.5M441.0 580.5L445.5 579.5M449.0 579.5L453.5 578.5M457.0 577.5L461.5 575.5M465.0 574.5L469.5 572.5M473.0 571.5L477.5 570.5M481.0 569.5L485.5 568.5M489.0 566.5L493.5 565.5M497.0 564.5L501.5 563.5M505.0 562.5L509.5 562.5M513.0 561.5L517.5 560.5M521.0 559.5L525.5 559.5M529.0 559.5L533.5 558.5M537.0 558.5L541.5 557.5M545.0 557.5L549.5 556.5M553.0 555.5L557.5 554.5M561.0 553.5L565.5 552.5M569.0 552.5L573.5 551.5M577.0 550.5L581.5 549.5M585.0 548.5L589.5 547.5M593.0 547.5L597.5 547.5M601.0 547.5L605.5 546.5M609.0 545.5L613.5 545.5M617.0 544.5L621.5 544.5M625.0 544.5L629.5 544.5M633.0 544.5L637.5 544.5M641.0 544.5L645.5 545.5M649.0 545.5L653.5 546.5M657.0 546.5L661.5 547.5M665.0 548.5L669.5 549.5M673.0 550.5L677.5 550.5M681.0 551.5L685.5 552.5M689.0 552.5L693.5 553.5M697.0 554.5L701.5 555.5M705.0 556.5L709.5 557.5M713.0 558.5L717.5 559.5M721.0 560.5L725.5 561.5M729.0 561.5L733.5 561.5M737.0 561.5L741.5 561.5M745.0 561.5L749.5 561.5M753.0 561.5L757.5 561.5M761.0 562.5L765.5 562.5M769.0 562.5L773.5 562.5M777.0 562.5L781.5 563.5M785.0 563.5L789.5 564.5M793.0 565.5L797.5 566.5M801.0 566.5L805.5 567.5M809.0 567.5L813.5 568.5M817.0 568.5L821.5 569.5M825.0 570.5L829.5 570.5M833.0 571.5L837.5 571.5M841.0 571.5L845.5 571.5M849.0 571.5L853.5 571.5M857.0 571.5L861.5 571.5M865.0 570.5L869.5 570.5M873.0 570.5L877.5 570.5M881.0 570.5L885.5 570.5M889.0 570.5L893.5 570.5M897.0 570.5L901.5 572.5M905.0 573.5L909.5 573.5M913.0 574.5L917.5 574.5M921.0 575.5L925.5 575.5M929.0 576.5L933.5 576.5M937.0 577.5L941.5 578.5M945.0 578.5L949.5 579.5M953.0 580.5L957.5 581.5M961.0 582.5L965.5 583.5M969.0 584.5L973.5 585.5M977.0 586.5L981.5 587.5M985.0 588.5L989.5 589.5M993.0 589.5L997.5 590.5M1001.0 591.5L1005.5 592.5M1009.0 592.5L1013.5 592.5M1017.0 592.5L1021.5 592.5M1025.0 592.5L1029.5 592.5M1033.0 592.5L1037.5 592.5M1041.0 592.5L1045.5 592.5M1049.0 592.5L1053.5 592.5M1057.0 591.5L1061.5 591.5M1065.0 591.5L1069.5 591.5M1073.0 591.5L1077.5 591.5M1081.0 591.5L1085.5 591.5M1089.0 591.5L1093.5 591.5M1097.0 591.5L1101.5 592.5M1105.0 592.5L1109.5 592.5M1113.0 592.5L1117.5 592.5M1121.0 592.5L1125.5 592.5M1129.0 592.5L1133.5 592.5M1137.0 592.5L1141.5 592.5M1145.0 591.5L1149.5 590.5M1153.0 590.5L1157.5 588.5M1161.0 587.5L1165.5 585.5M1169.0 584.5L1173.5 583.5M1177.0 582.5L1181.5 580.5M1185.0 578.5L1189.5 576.5M1193.0 575.5L1197.5 573.5M1201.0 572.5L1205.5 571.5M1209.0 569.5L1213.5 569.5M1217.0 568.5L1221.5 567.5M1225.0 566.5L1229.5 566.5M1233.0 566.5L1237.5 566.5M1241.0 566.5L1245.5 566.5M1249.0 565.5L1253.5 565.5M1257.0 565.5L1261.5 565.5M1265.0 565.5L1269.5 565.5M1273.0 565.5L1277.5 565.5M1281.0 565.5L1285.5 565.5M1289.0 565.5L1293.5 565.5M1297.0 565.5L1301.5 565.5M1305.0 565.5L1307.5 565.5" stroke="#ff0000" stroke-width="1" fill="none"/>
<line x1="3" y1="640.5" x2="1659" y2="640.5" stroke="#c0c0c0" stroke-width="1" stroke-dasharray="3,3"/>
<line x1="3" y1="691.5" x2="1659" y2="691.5" stroke="#c0c0c0" stroke-width="1" stroke-dasharray="3,3"/>
<polyline points="3.5,666.5 11.5,674.5 19.5,671.5 27.5,668.5 35.5,666.5 43.5,674.5 51.5,674.5 59.5,668.5 67.5,664.5 75.5,660.5 83.5,666.5 91.5,663.5 99.5,662.5 107.5,668.5 115.5,662.5 123.5,653.5 131.5,672.5 139.5,676.5 147.5,675.5 155.5,673.5 163.5,668.5 171.5,667.5 179.5,669.5 187.5,669.5 195.5,668.5 203.5,666.5 211.5,670.5 219.5,666.5 227.5,666.5 235.5,657.5 243.5,659.5 251.5,659.5 259.5,657.5 267.5,652.5 275.5,656.5 283.5,651.5 291.5,650.5 299.5,657.5 307.5,653.5 315.5,652.5 323.5,659.5 331.5,684.5 339.5,684.5 347.5,687.5 355.5,692.5 363.5,694.5 371.5,672.5 379.5,644.5 387.5,652.5 395.5,659.5 403.5,653.5 411.5,656.5 419.5,649.5 427.5,653.5 435.5,657.5 443.5,648.5 451.5,646.5 459.5,644.5 467.5,642.5 475.5,645.5 483.5,638.5 491.5,651.5 499.5,651.5 507.5,650.5 515.5,646.5 523.5,644.5 531.5,642.5 539.5,637.5 547.5,638.5 555.5,634.5 563.5,630.5 571.5,642.5 579.5,639.5 587.5,642.5 595.5,644.5 603.5,643.5 611.5,644.5 619.5,641.5 627.5,640.5 635.5,639.5 643.5,645.5 651.5,645.5 659.5,644.5 667.5,653.5 675.5,650.5 683.5,655.5 691.5,663.5 699.5,650.5 707.5,650.5 715.5,647.5 723.5,646.5 731.5,643.5 739.5,638.5 747.5,638.5 755.5,663.5 763.5,663.5 771.5,666.5 779.5,663.5 787.5,668.5 795.5,654.5 803.5,652.5 811.5,656.5 819.5,654.5 827.5,651.5 835.5,660.5 843.5,658.5 851.5,655.5 859.5,651.5 867.5,649.5 875.5,655.5 883.5,661.5 891.5,663.5 899.5,668.5 907.5,663.5 915.5,667.5 923.5,668.5 931.5,671.5 939.5,681.5 947.5,672.5 955.5,677.5 963.5,677.5 971.5,677.5 979.5,673.5 987.5,666.5 995.5,668.5 1003.5,663.5 1011.5,665.5 1019.5,669.5 1027.5,674.5 1035.5,671.5 1043.5,668.5 1051.5,667.5 1059.5,668.5 1067.5,669.5 1075.5,673.5 1083.5,679.5 1091.5,668.5 1099.5,670.5 1107.5,672.5 1115.5,675.5 1123.5,673.5 1131.5,673.5 1139.5,643.5 1147.5,644.5 1155.5,633.5 1163.5,641.5 1171.5,652.5 1179.5,650.5 1187.5,650.5 1195.5,653.5 1203.5,653.5 1211.5,653.5 1219.5,650.5 1227.5,653.5 1235.5,643.5 1243.5,643.5 1251.5,643.5 1259.5,654.5 1267.5,649.5 1275.5,646.5 1283.5,656.5 1291.5,654.5 1299.5,656.5 1307.5,656.5" fill="none" stroke="#1e90ff" stroke-width="1"/><rect x="2" y="43" width="1658" height="1" fill="#000"/><rect x="2" y="536" width="1658" height="1" fill="#000"/><rect x="2" y="43" width="1" height="494" fill="#000"/><rect x="1659" y="43" width="1" height="494" fill="#000"/>
<rect x="2" y="538" width="1658" height="1" fill="#000"/><rect x="2" y="599" width="1658" height="1" fill="#000"/><rect x="2" y="538" width="1" height="62" fill="#000"/><rect x="1659" y="538" width="1" height="62" fill="#000"/>
<rect x="2" y="601" width="1658" height="1" fill="#000"/><rect x="2" y="729" width="1658" height="1" fill="#000"/><rect x="2" y="601" width="1" height="129" fill="#000"/><rect x="1659" y="601" width="1" height="129" fill="#000"/>
<rect x="1660" y="76" width="2" height="1" fill="#000"/>
<rect x="1660" y="174" width="2" height="1" fill="#000"/>
<rect x="1660" y="223" width="2" height="1" fill="#000"/>
<rect x="1660" y="272" width="2" height="1" fill="#000"/>
<rect x="1660" y="321" width="2" height="1" fill="#000"/>
<rect x="1660" y="370" width="2" height="1" fill="#000"/>
<rect x="1660" y="419" width="2" height="1" fill="#000"/>
<rect x="1660" y="468" width="2" height="1" fill="#000"/>
<rect x="1660" y="517" width="2" height="1" fill="#000"/>
<rect x="1660" y="540" width="1" height="1" fill="#000"/>
<rect x="1660" y="587" width="1" height="1" fill="#000"/>
<rect x="1660" y="598" width="1" height="1" fill="#000"/>
<rect x="1660" y="603" width="1" height="1" fill="#000"/>
<rect x="1660" y="729" width="2" height="1" fill="#000"/>
<rect x="3" y="730" width="1" height="3" fill="#000"/>
<rect x="99" y="730" width="1" height="3" fill="#000"/>
<rect x="195" y="730" width="1" height="3" fill="#000"/>
<rect x="291" y="730" width="1" height="3" fill="#000"/>
<rect x="387" y="730" width="1" height="3" fill="#000"/>
<rect x="483" y="730" width="1" height="3" fill="#000"/>
<rect x="579" y="730" width="1" height="3" fill="#000"/>
<rect x="675" y="730" width="1" height="3" fill="#000"/>
<rect x="771" y="730" width="1" height="3" fill="#000"/>
<rect x="867" y="730" width="1" height="3" fill="#000"/>
<rect x="963" y="730" width="1" height="3" fill="#000"/>
<rect x="1059" y="730" width="1" height="3" fill="#000"/>
<rect x="1155" y="730" width="1" height="3" fill="#000"/>
<rect x="1251" y="730" width="1" height="3" fill="#000"/>
<rect x="2" y="215" width="6" height="6" fill="#0000ff"/><rect x="4" y="217" width="2" height="2" fill="#fff"/>
<rect x="1653" y="215" width="6" height="6" fill="#0000ff"/><rect x="1655" y="217" width="2" height="2" fill="#fff"/>
<rect x="1653" y="123" width="6" height="6" fill="#00ff7f"/><rect x="1655" y="125" width="2" height="2" fill="#fff"/>
<rect x="2" y="123" width="2" height="6" fill="#00ff7f"/>
<rect x="1321" y="44" width="11" height="1" fill="#c0c0c0"/>
<rect x="1322" y="45" width="9" height="1" fill="#c0c0c0"/>
<rect x="1323" y="46" width="7" height="1" fill="#c0c0c0"/>
<rect x="1324" y="47" width="5" height="1" fill="#c0c0c0"/>
<rect x="1325" y="48" width="3" height="1" fill="#c0c0c0"/>
<rect x="1326" y="49" width="1" height="1" fill="#c0c0c0"/></svg>
<div id="panelbg"></div>
<svg id="cn" width="1719" height="756" viewBox="0 0 1719 756"><text x="1177" y="436.8" font-family="&quot;Liberation Sans&quot;, &quot;Noto Sans CJK SC&quot;, sans-serif" font-size="51" fill="#ff1a0a" textLength="251" lengthAdjust="spacingAndGlyphs">多空转折点</text><text x="1428" y="433.6" font-family="&quot;Liberation Sans&quot;, &quot;Noto Sans CJK SC&quot;, sans-serif" font-size="51" fill="#ff1a0a" textLength="117" lengthAdjust="spacingAndGlyphs">1530</text></svg>
<div id="tp">
<div class="rp lo" style="left:6px;top:93px;width:141px;height:49px"></div>
<div class="rp hd" style="left:6px;top:66px;width:68px;height:28px;border-bottom:none"></div>
<div class="rp lo" style="left:149px;top:93px;width:140px;height:49px"></div>
<div class="rp hd" style="left:221px;top:66px;width:68px;height:28px;border-bottom:none"></div>
<div class="ul" style="left:10px;top:92px;width:60px"></div>
<div class="ul" style="left:225px;top:92px;width:60px"></div>
<div class="tpl" style="left:23px;top:71.4px">SELL</div>
<div class="tpl" style="left:240px;top:71.4px">BUY</div>
<div class="sm" style="left:36px;top:118px">1537</div>
<div class="sm" style="left:178px;top:118px">1538</div>
<svg style="position:absolute;left:0;top:0" width="300" height="150" viewBox="0 0 300 150">
<defs><linearGradient id="lg" gradientUnits="userSpaceOnUse" x1="0" y1="94" x2="0" y2="142"><stop offset="0" stop-color="#e03232"/><stop offset=".5" stop-color="#c81818"/><stop offset="1" stop-color="#b00404"/></linearGradient></defs>
<g font-family="Liberation Sans" font-size="43.5" fill="#fff" stroke="url(#lg)" stroke-width=".9">
<text transform="translate(75.8,131.2) scale(.92,1)">97</text>
<text transform="translate(218.8,131.2) scale(.92,1)">39</text>
</g></svg>
<div class="vb">
 <div class="vbtn" style="left:0;border-right:1px solid #b4b6c0"></div>
 <div class="vbtn" style="right:0;border-left:1px solid #b4b6c0"></div>
 <svg style="position:absolute;left:0;top:0" width="141" height="23"><path d="M7.8 10.3h7.4l-3.7 4.3z" fill="#5a68c4"/><path d="M126 12.9h7.4l-3.7-4.3z" fill="#5a68c4"/></svg>
 <div style="position:absolute;right:26px;top:3.9px;font-size:16px;line-height:18px;color:#000">1.00</div>
</div>
</div>

<div class="tb"><div class="l1"></div><div class="l1b"></div><div class="l2"></div><div class="l3"></div>
<div style="position:absolute;left:817px;top:0;width:1px;height:6px;background:#a0a0a0"></div><div style="position:absolute;left:818px;top:0;width:1px;height:7px;background:#fff"></div>
<div style="position:absolute;left:280px;top:0;width:1px;height:3px;background:#9a9a9a"></div><div style="position:absolute;left:377px;top:0;width:1px;height:3px;background:#9a9a9a"></div><div style="position:absolute;left:421px;top:0;width:1px;height:3px;background:#9a9a9a"></div><div style="position:absolute;left:490px;top:0;width:1px;height:3px;background:#9a9a9a"></div><div style="position:absolute;left:598px;top:0;width:1px;height:3px;background:#9a9a9a"></div><div style="position:absolute;left:603px;top:0;width:1px;height:3px;background:#9a9a9a"></div><div style="position:absolute;left:637px;top:0;width:1px;height:3px;background:#9a9a9a"></div><div style="position:absolute;left:672px;top:0;width:1px;height:3px;background:#9a9a9a"></div><div style="position:absolute;left:281px;top:0;width:96px;height:2px;background:#f9f9f9"></div><div style="position:absolute;left:422px;top:0;width:30px;height:2px;background:#f9f9f9"></div><div style="position:absolute;left:604px;top:0;width:30px;height:2px;background:#f9f9f9"></div><div style="position:absolute;left:638px;top:0;width:30px;height:2px;background:#f9f9f9"></div><div style="position:absolute;left:693px;top:0;width:6px;height:2px;background:#10a010"></div><div style="position:absolute;left:380px;top:1px;width:3px;height:1px;background:#808080"></div><div class="vsep" style="left:177px"></div><svg style="position:absolute;left:0;top:0" width="200" height="41" viewBox="0 0 200 41">
<g stroke="#555" stroke-width="1.5" fill="none" stroke-linecap="round">
<path d="M1.2 25.5L11.5 15.5M7.5 31.8L19 21.1"/>
<path d="M15.9 13.2L17 21.9M12.3 17.5L13 26.3M8.1 21.5L8.7 29.5M4 23.5L4.4 31.4" stroke-width="1.7"/>
<path d="M3 28.5L10 24.5L14.5 21.5L18.5 16.5" stroke-width="1.1"/>
</g>
<text transform="translate(15.1,34.1) scale(.86,1)" font-family="Liberation Sans" font-weight="bold" font-size="8.8" fill="#484848">E</text>
<rect x="36.4" y="14.1" width="1.4" height="1.7" fill="#505050"/><rect x="39.0" y="14.1" width="1.4" height="1.7" fill="#505050"/><rect x="41.6" y="14.1" width="1.4" height="1.7" fill="#505050"/><rect x="44.2" y="14.1" width="1.4" height="1.7" fill="#505050"/><rect x="46.8" y="14.1" width="1.4" height="1.7" fill="#505050"/><rect x="49.4" y="14.1" width="1.4" height="1.7" fill="#505050"/><rect x="52.0" y="14.1" width="1.4" height="1.7" fill="#505050"/><rect x="36.4" y="18.0" width="1.4" height="1.7" fill="#505050"/><rect x="39.0" y="18.0" width="1.4" height="1.7" fill="#505050"/><rect x="41.6" y="18.0" width="1.4" height="1.7" fill="#505050"/><rect x="44.2" y="18.0" width="1.4" height="1.7" fill="#505050"/><rect x="46.8" y="18.0" width="1.4" height="1.7" fill="#505050"/><rect x="49.4" y="18.0" width="1.4" height="1.7" fill="#505050"/><rect x="52.0" y="18.0" width="1.4" height="1.7" fill="#505050"/><rect x="36.4" y="23.1" width="1.4" height="1.7" fill="#505050"/><rect x="39.0" y="23.1" width="1.4" height="1.7" fill="#505050"/><rect x="41.6" y="23.1" width="1.4" height="1.7" fill="#505050"/><rect x="44.2" y="23.1" width="1.4" height="1.7" fill="#505050"/><rect x="46.8" y="23.1" width="1.4" height="1.7" fill="#505050"/><rect x="49.4" y="23.1" width="1.4" height="1.7" fill="#505050"/><rect x="52.0" y="23.1" width="1.4" height="1.7" fill="#505050"/><rect x="36.4" y="28.2" width="1.4" height="1.7" fill="#505050"/><rect x="39.0" y="28.2" width="1.4" height="1.7" fill="#505050"/><rect x="41.6" y="28.2" width="1.4" height="1.7" fill="#505050"/><rect x="44.2" y="28.2" width="1.4" height="1.7" fill="#505050"/><rect x="46.8" y="28.2" width="1.4" height="1.7" fill="#505050"/>
<text transform="translate(48.9,34.1) scale(.9,1)" font-family="Liberation Sans" font-weight="bold" font-size="8.8" fill="#484848">F</text>
<text transform="translate(74,29.5) scale(.92,1)" font-family="Liberation Sans" font-size="15.8" fill="#4c4c4c" stroke="#4c4c4c" stroke-width=".5">A</text>
<rect x="105.7" y="15.6" width="1.2" height="1.1" fill="#505050"/><rect x="105.7" y="31.0" width="1.2" height="1.1" fill="#505050"/><rect x="108.2" y="15.6" width="1.2" height="1.1" fill="#505050"/><rect x="108.2" y="31.0" width="1.2" height="1.1" fill="#505050"/><rect x="110.8" y="15.6" width="1.2" height="1.1" fill="#505050"/><rect x="110.8" y="31.0" width="1.2" height="1.1" fill="#505050"/><rect x="113.3" y="15.6" width="1.2" height="1.1" fill="#505050"/><rect x="113.3" y="31.0" width="1.2" height="1.1" fill="#505050"/><rect x="115.9" y="15.6" width="1.2" height="1.1" fill="#505050"/><rect x="115.9" y="31.0" width="1.2" height="1.1" fill="#505050"/><rect x="118.4" y="15.6" width="1.2" height="1.1" fill="#505050"/><rect x="118.4" y="31.0" width="1.2" height="1.1" fill="#505050"/><rect x="105.8" y="18.1" width="1.1" height="1.2" fill="#505050"/><rect x="120.0" y="18.1" width="1.1" height="1.2" fill="#505050"/><rect x="105.8" y="20.6" width="1.1" height="1.2" fill="#505050"/><rect x="120.0" y="20.6" width="1.1" height="1.2" fill="#505050"/><rect x="105.8" y="23.1" width="1.1" height="1.2" fill="#505050"/><rect x="120.0" y="23.1" width="1.1" height="1.2" fill="#505050"/><rect x="105.8" y="25.6" width="1.1" height="1.2" fill="#505050"/><rect x="120.0" y="25.6" width="1.1" height="1.2" fill="#505050"/><rect x="105.8" y="28.1" width="1.1" height="1.2" fill="#505050"/><rect x="120.0" y="28.1" width="1.1" height="1.2" fill="#505050"/>
<rect x="104.7" y="14.2" width="2.6" height="2.4" fill="#606060"/>
<path d="M108.5 19.3h10.1v1.5h-3.8v8.8h-2.8v-8.8h-3.5z" fill="#707070"/>
<path d="M143.1 15.5L147.6 20.7H145.5V21.9H140.7V20.7H138.4z" fill="#5a5a5a"/>
<path d="M141.3 24.9L144.5 27.6L149.8 21.1" stroke="#5a5a5a" stroke-width="1.5" fill="none"/>
<path d="M149.6 26H154.2V27.4H156.5L151.8 32.2L147.3 27.4H149.6z" fill="#5a5a5a"/>
<path d="M161.8 21.8H169.2L165.5 26z" fill="#000"/>
<rect x="178" y="7" width="1" height="32" fill="#fff"/>
<rect x="181" y="10" width="3" height="1" fill="#a0a0a0"/><rect x="181" y="12" width="3" height="1" fill="#a0a0a0"/><rect x="181" y="14" width="3" height="1" fill="#a0a0a0"/><rect x="181" y="16" width="3" height="1" fill="#a0a0a0"/><rect x="181" y="18" width="3" height="1" fill="#a0a0a0"/><rect x="181" y="20" width="3" height="1" fill="#a0a0a0"/><rect x="181" y="22" width="3" height="1" fill="#a0a0a0"/><rect x="181" y="24" width="3" height="1" fill="#a0a0a0"/><rect x="181" y="26" width="3" height="1" fill="#a0a0a0"/><rect x="181" y="28" width="3" height="1" fill="#a0a0a0"/><rect x="181" y="30" width="3" height="1" fill="#a0a0a0"/><rect x="181" y="32" width="3" height="1" fill="#a0a0a0"/><rect x="181" y="34" width="3" height="1" fill="#a0a0a0"/><rect x="181" y="36" width="3" height="1" fill="#a0a0a0"/>
</svg>
<div style="position:absolute;left:21px;top:0;width:31px;height:2px;background:#fbfbfb"></div>
<div style="position:absolute;left:20px;top:0;width:1px;height:3px;background:#808080"></div>
<div style="position:absolute;left:90px;top:0;width:1px;height:3px;background:#808080"></div>
<div style="position:absolute;left:111px;top:0;width:5px;height:2px;background:#10a010"></div>
<div style="position:absolute;left:78px;top:0;width:4px;height:2px;background:#e0b020;border-radius:0 0 2px 2px"></div>

<div class="tf" style="left:194px">M1</div>
<div class="tf" style="left:228px">M5</div>
<div class="tf" style="left:259px">M15</div>
<div class="tf" style="left:293px">M30</div>
<div class="tf" style="left:331px">H1</div>
<div style="position:absolute;left:357px;top:8px;width:32px;height:29px;background:#f8f8f8;border-left:1px solid #a0a0a0;border-top:1px solid #a0a0a0;border-right:1px solid #fff;border-bottom:1px solid #fff"></div>
<div class="tf" style="left:364px">H4</div>
<div class="tf" style="left:399px">D1</div>
<div class="tf" style="left:432px">W1</div>
<div class="tf" style="left:464px">MN</div>
<div class="vsep" style="left:492px"></div><div class="vsep" style="left:493px;background:#fff"></div>
</div>
<svg style="position:absolute;left:0;top:44px" width="20" height="16"><path d="M6 12.2L10.5 8L15 12.2z" fill="#000"/></svg><div class="ttl" style="letter-spacing:-0.35px">XAUUSD-,H4</div><div class="ttl" style="left:98px;letter-spacing:0.42px">1537.77 1538.10 1537.70 1537.98</div>
<div class="ind" style="top:543px;letter-spacing:.33px">MACD(12,26,9) 6.905 8.083</div>
<div class="ind" style="top:606px;letter-spacing:.35px">RSI(14) 57.7862</div>
<div class="pl" style="top:70px">1546.10</div>
<div class="pl" style="top:168px">1514.30</div>
<div class="pl" style="top:217px">1498.40</div>
<div class="pl" style="top:266px">1482.50</div>
<div class="pl" style="top:315px">1466.60</div>
<div class="pl" style="top:364px">1450.70</div>
<div class="pl" style="top:413px">1434.50</div>
<div class="pl" style="top:462px">1418.60</div>
<div class="pl" style="top:511px">1402.70</div>
<div class="pl" style="top:541px;left:1663px;letter-spacing:.6px">17.498</div>
<div class="pl" style="top:580px;left:1662.5px">0.00</div>
<div class="pl" style="top:585.5px;left:1662.5px">-4.374</div>
<div class="pl" style="top:604px;left:1663px;letter-spacing:.6px">100</div>
<div class="pl" style="top:634px;left:1662.5px">70</div>
<div class="pl" style="top:685px;left:1662.5px">30</div>
<div class="pl" style="top:715px;left:1663.5px">0</div>
<div class="pb" style="top:94px;background:#000">1537.98</div>
<div class="pb" style="top:120px;background:#00ff7f">1530.00</div>
<div class="pb" style="top:212px;background:#0000ff">1500.00</div>
<div class="pb" style="top:289px;background:#0000ff">1475.00</div>
<div class="tl" style="left:1.6px">22 Jul 2019</div>
<div class="tl" style="left:97.6px">24 Jul 20:00</div>
<div class="tl" style="left:193.6px">28 Jul 23:00</div>
<div class="tl" style="left:289.6px">30 Jul 20:00</div>
<div class="tl" style="left:385.9px;letter-spacing:.47px">1 Aug 20:00</div>
<div class="tl" style="left:481.9px;letter-spacing:.47px">5 Aug 20:00</div>
<div class="tl" style="left:577.9px;letter-spacing:.47px">7 Aug 20:00</div>
<div class="tl" style="left:673.9px;letter-spacing:.47px">11 Aug 23:00</div>
<div class="tl" style="left:769.9px;letter-spacing:.47px">13 Aug 20:00</div>
<div class="tl" style="left:865.9px;letter-spacing:.47px">15 Aug 20:00</div>
<div class="tl" style="left:961.9px;letter-spacing:.47px">19 Aug 20:00</div>
<div class="tl" style="left:1057.9px;letter-spacing:.47px">21 Aug 20:00</div>
<div class="tl" style="left:1153.9px;letter-spacing:.47px">25 Aug 23:00</div>
<div class="tl" style="left:1249.9px;letter-spacing:.47px">27 Aug 20:00</div>
<div style="position:absolute;left:0;top:753px;width:1719px;height:2px;background:#e8e8e8"></div>
<div style="position:absolute;left:0;top:755px;width:206px;height:1px;background:#000"></div>
<div style="position:absolute;left:324px;top:755px;width:1395px;height:1px;background:#000"></div>
</div></body></html>
